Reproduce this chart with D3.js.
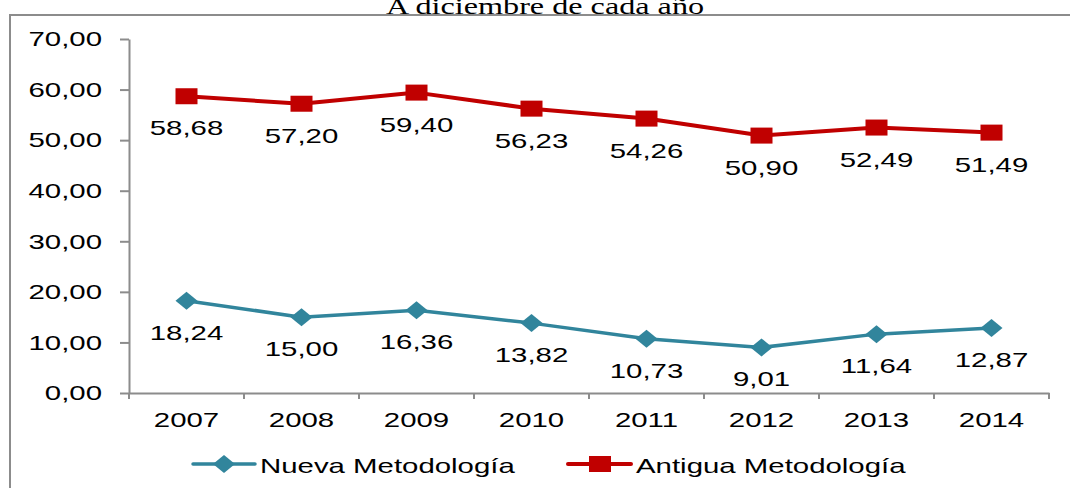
<!DOCTYPE html>
<html>
<head>
<meta charset="utf-8">
<script src="https://cdn.jsdelivr.net/npm/d3@7"></script>
<style>
  body { margin: 0; background: #fff; }
  svg { display: block; }
  text { font-family: "Liberation Sans", Arial, sans-serif; fill: #000; }
</style>
</head>
<body>
<div id="chart"></div>
<script>
const years = ["2007", "2008", "2009", "2010", "2011", "2012", "2013", "2014"];
const nuevaValues = [18.24, 15.00, 16.36, 13.82, 10.73, 9.01, 11.64, 12.87];
const antiguaValues = [58.68, 57.20, 59.40, 56.23, 54.26, 50.90, 52.49, 51.49];
const yTicks = [0, 10, 20, 30, 40, 50, 60, 70];
const seriesNames = ["Nueva Metodología", "Antigua Metodología"];
const titleText = "A diciembre de cada año";

const W = 1070, H = 488;
const SX = 1.4; // the source image is stretched horizontally
const FS = 21;
const axisColor = "#8c8c8c";
const teal = "#31859C", red = "#C00000";

const es = d3.formatLocale({ decimal: ",", thousands: ".", grouping: [3], currency: ["", "€"] });
const fmt = es.format(".2f");

const svg = d3.select("#chart").append("svg").attr("width", W).attr("height", H);

// chart frame
svg.append("rect")
    .attr("x", 10).attr("y", 15)
    .attr("width", W + 20).attr("height", H + 20)
    .attr("fill", "none").attr("stroke", axisColor).attr("stroke-width", 2);

svg.append("text")
    .attr("transform", `translate(545,14) scale(${SX},1)`)
    .attr("text-anchor", "middle")
    .style("font-family", '"Liberation Serif", "Times New Roman", serif')
    .style("font-size", "23px")
    .text(titleText);

const x = d3.scaleBand().domain(years).range([129, 1049]);
const y = d3.scaleLinear().domain([0, 70]).range([393, 39]);

// y axis
const yAxisG = svg.append("g")
    .attr("transform", "translate(129,0)")
    .call(d3.axisLeft(y).tickValues(yTicks).tickSize(9).tickSizeOuter(0).tickFormat(fmt));
yAxisG.selectAll("text")
    .attr("x", -27 / SX)
    .attr("transform", `scale(${SX},1)`)
    .style("font-size", FS + "px");

// x axis, labels centred in each band, ticks on band edges
const xAxisG = svg.append("g")
    .attr("transform", "translate(0,393)")
    .call(d3.axisBottom(x).tickSize(0).tickSizeOuter(0).tickPadding(19));
xAxisG.selectAll("text")
    .attr("x", 0)
    .attr("transform", `scale(${SX},1)`)
    .style("font-size", FS + "px");
xAxisG.selectAll(".boundary")
    .data(years.map(d => x(d)).concat([x.range()[1]]))
    .join("line")
    .attr("class", "boundary")
    .attr("x1", d => d).attr("x2", d => d)
    .attr("y1", 0).attr("y2", 6)
    .attr("stroke", axisColor).attr("stroke-width", 2);

[yAxisG, xAxisG].forEach(g => {
    g.select(".domain").attr("stroke", axisColor).attr("stroke-width", 2);
    g.selectAll(".tick line").attr("stroke", axisColor).attr("stroke-width", 2);
    g.attr("font-family", null).attr("font-size", null);
});

const cx = d => x(d) + x.bandwidth() / 2;

const series = [
    { name: seriesNames[0], values: nuevaValues, color: teal, shape: "diamond", width: 3.5 },
    { name: seriesNames[1], values: antiguaValues, color: red, shape: "square", width: 4 }
];

function marker(g, shape, color) {
    if (shape === "square") {
        g.append("rect").attr("x", -11).attr("y", -8).attr("width", 22).attr("height", 16).attr("fill", color);
    } else {
        g.append("path").attr("d", "M0,-9L11,0L0,9L-11,0Z").attr("fill", color);
    }
}

const line = d3.line().x(d => cx(d.year)).y(d => y(d.value));

series.forEach(s => {
    const pts = years.map((yr, i) => ({ year: yr, value: s.values[i] }));
    svg.append("path")
        .datum(pts)
        .attr("d", line)
        .attr("fill", "none")
        .attr("stroke", s.color)
        .attr("stroke-width", s.width)
        .attr("stroke-linejoin", "round");
    svg.append("g").selectAll("g")
        .data(pts)
        .join("g")
        .attr("transform", d => `translate(${cx(d.year)},${y(d.value)})`)
        .each(function () { marker(d3.select(this), s.shape, s.color); });
    svg.append("g").selectAll("text")
        .data(pts)
        .join("text")
        .attr("transform", d => `translate(${cx(d.year)},${y(d.value) + 39}) scale(${SX},1)`)
        .attr("text-anchor", "middle")
        .style("font-size", FS + "px")
        .text(d => fmt(d.value));
});

// legend
const legendItems = [
    { s: series[0], x1: 193, x2: 255, mx: 224, tx: 260 },
    { s: series[1], x1: 568, x2: 631, mx: 600, tx: 636 }
];
legendItems.forEach(l => {
    svg.append("line")
        .attr("x1", l.x1).attr("x2", l.x2).attr("y1", 464).attr("y2", 464)
        .attr("stroke", l.s.color).attr("stroke-width", l.s.width).attr("stroke-linecap", "round");
    const g = svg.append("g").attr("transform", `translate(${l.mx},464)`);
    marker(g, l.s.shape, l.s.color);
    svg.append("text")
        .attr("transform", `translate(${l.tx},473) scale(${SX},1)`)
        .style("font-size", FS + "px")
        .text(l.s.name);
});
</script>
</body>
</html>
